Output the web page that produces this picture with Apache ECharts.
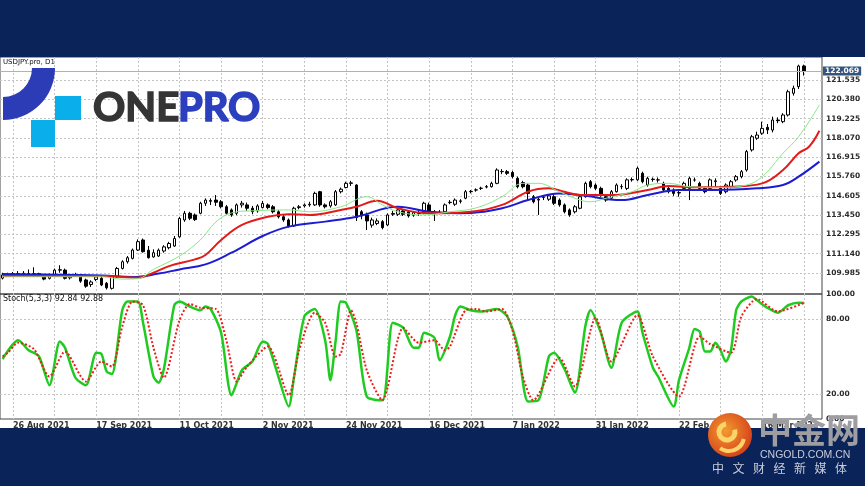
<!DOCTYPE html>
<html>
<head>
<meta charset="utf-8">
<title>USDJPY D1</title>
<script src="https://cdn.jsdelivr.net/npm/echarts@6/dist/echarts.min.js"></script>
<style>
html, body { margin: 0; padding: 0; }
#main { width: 865px; height: 486px; }
</style>
</head>
<body>
<div id="main"></div>
<script>
// ---- data ----
// trading days shown: weekdays from 24 Aug 2021, last three are the empty space on the right
var firstDay = Date.UTC(2021, 7, 24);
var dayCount = 158;
var dateLabels = ['26 Aug 2021', '17 Sep 2021', '11 Oct 2021', '2 Nov 2021', '24 Nov 2021',
    '16 Dec 2021', '7 Jan 2022', '31 Jan 2022', '22 Feb 2022', '16 Mar 2022'];
var priceTicks = [109.985, 111.140, 112.295, 113.450, 114.605, 115.760, 116.915, 118.070, 119.225, 120.380, 121.535];
var stochTicks = [0, 20, 80, 100];
var stochLevels = [20, 80];
var lastPrice = 122.069;

// [open, close, low, high]
var ohlc = [
    [109.68,109.87,109.60,110.00],[109.87,109.90,109.75,110.00],[109.90,109.95,109.80,110.05],[109.95,109.90,109.80,110.10],
    [109.90,109.97,109.80,110.10],[109.95,109.93,109.80,110.20],[109.93,109.95,109.75,110.33],[109.95,109.90,109.80,110.00],
    [109.85,109.62,109.55,109.90],[109.67,109.85,109.60,109.95],[109.87,110.16,109.80,110.25],[110.16,110.18,110.00,110.45],
    [110.16,109.67,109.60,110.25],[109.70,109.80,109.60,109.90],[109.85,109.88,109.75,110.00],[109.76,109.50,109.40,109.90],
    [109.57,109.20,109.10,109.65],[109.30,109.45,109.15,109.55],[109.60,109.75,109.50,109.85],[109.67,109.27,109.20,109.75],
    [109.37,109.10,109.00,109.45],[109.07,109.76,109.00,109.85],[109.76,110.26,109.70,110.35],[110.26,110.66,110.20,110.75],
    [110.66,110.90,110.55,111.00],[110.86,111.36,110.80,111.45],[111.36,111.86,111.30,112.00],[111.96,111.26,111.20,112.05],
    [111.35,110.90,110.85,111.60],[110.95,111.20,110.90,111.40],[111.00,111.35,110.95,111.45],[111.30,111.55,111.20,111.65],
    [111.50,111.75,111.40,111.85],[111.60,112.05,111.55,112.20],[112.15,113.25,112.10,113.35],[113.16,113.56,113.05,113.70],
    [113.56,113.26,113.15,113.65],[113.46,113.18,113.10,113.55],[113.56,114.16,113.50,114.25],[114.16,114.35,114.00,114.45],
    [114.32,114.28,114.05,114.45],[114.35,114.22,114.00,114.65],[114.25,113.95,113.85,114.35],[113.95,113.56,113.45,114.05],
    [113.76,113.46,113.35,113.85],[113.56,114.06,113.45,114.15],[114.06,114.16,113.90,114.30],[114.06,113.86,113.70,114.20],
    [113.86,113.65,113.50,114.00],[113.70,114.00,113.60,114.10],[113.90,114.15,113.85,114.30],[114.06,113.90,113.80,114.15],
    [113.95,113.65,113.55,114.05],[113.65,113.35,113.25,113.75],[113.35,113.16,113.05,113.45],[113.16,112.80,112.70,113.25],
    [112.80,113.86,112.75,113.95],[113.90,113.95,113.80,114.05],[114.00,114.06,113.90,114.15],[114.06,114.10,113.95,114.25],
    [114.06,114.75,114.00,114.85],[114.85,114.06,113.95,114.90],[114.06,113.95,113.85,114.15],[114.00,114.25,113.90,114.35],
    [114.06,114.85,114.00,114.95],[114.85,115.00,114.75,115.10],[115.10,115.35,115.05,115.45],[115.35,115.38,115.20,115.50],
    [115.25,113.30,113.10,115.30],[113.65,113.40,113.20,113.75],[113.46,113.10,112.56,113.60],[112.85,113.16,112.70,113.30],
    [112.95,113.10,112.85,113.25],[113.06,112.70,112.60,113.15],[112.86,113.46,112.80,113.55],[113.50,113.55,113.40,113.70],
    [113.50,113.76,113.40,113.85],[113.70,113.50,113.40,113.80],[113.65,113.40,113.30,113.75],[113.45,113.60,113.35,113.70],
    [113.55,113.57,113.40,113.70],[113.60,114.16,113.50,114.25],[114.06,113.65,113.55,114.20],[113.60,113.62,113.10,113.75],
    [113.60,113.62,113.50,113.75],[113.65,114.06,113.60,114.15],[114.20,114.22,114.10,114.35],[114.10,114.35,114.00,114.45],
    [114.30,114.28,114.15,114.40],[114.46,114.85,114.40,114.95],[114.85,114.87,114.75,114.95],[114.95,114.96,114.85,115.05],
    [115.05,115.06,114.95,115.15],[115.15,115.13,115.05,115.25],[115.15,115.35,115.10,115.45],[115.35,116.15,115.30,116.25],
    [116.05,116.06,115.90,116.20],[116.05,115.95,115.85,116.15],[116.00,115.75,115.65,116.10],[115.65,115.15,115.05,115.75],
    [115.40,115.15,115.05,115.50],[115.25,114.75,114.35,115.35],[114.55,114.25,114.15,114.65],[114.35,114.40,113.46,114.55],
    [114.50,114.52,114.35,114.65],[114.40,114.60,114.30,114.70],[114.55,114.16,114.05,114.65],[114.35,114.06,113.95,114.45],
    [114.06,113.65,113.55,114.15],[113.76,113.46,113.35,113.85],[113.65,113.95,113.55,114.05],[113.86,114.55,113.80,114.65],
    [114.55,115.35,114.50,115.45],[115.45,115.15,115.05,115.55],[115.25,115.05,114.95,115.35],[115.05,114.65,114.55,115.15],
    [114.55,114.35,114.25,114.65],[114.46,114.85,114.40,114.95],[114.85,115.25,114.80,115.35],[115.15,115.16,115.00,115.30],
    [115.05,115.56,114.95,115.65],[115.56,115.58,115.45,115.70],[115.56,116.25,115.50,116.35],[115.95,115.45,115.35,116.05],
    [115.25,115.65,115.15,115.75],[115.60,115.58,115.45,115.70],[115.55,115.56,115.40,115.70],[115.35,114.95,114.85,115.45],
    [115.05,114.85,114.75,115.15],[114.95,114.75,114.60,115.05],[114.80,114.78,114.55,114.90],[115.05,115.35,114.95,115.45],
    [115.05,115.65,114.35,115.75],[115.55,115.55,115.45,115.70],[115.35,115.05,114.95,115.45],[115.05,114.85,114.75,115.15],
    [115.05,115.56,114.95,115.65],[115.45,115.50,115.15,115.65],[115.05,114.75,114.65,115.15],[114.85,115.25,114.75,115.35],
    [115.15,115.45,115.05,115.55],[115.55,115.75,115.45,115.85],[115.75,116.05,115.65,116.15],[116.15,117.25,116.05,117.35],
    [117.35,118.14,117.25,118.25],[118.05,118.24,117.95,118.44],[118.35,118.64,118.25,119.04],[118.70,118.55,118.30,118.90],
    [118.54,119.14,118.40,119.34],[119.14,119.10,118.95,119.30],[119.04,119.44,118.95,119.55],[119.44,120.83,119.35,120.95],
    [120.74,121.04,120.60,121.20],[121.14,122.37,121.00,122.45],[122.37,122.07,121.80,122.45]
];

// shifted moving averages, [bar index, price]
var maGreen = [[0,109.76],[19,109.76],[23,109.62],[26,109.65],[29,110.2],[34,111.0],[38,111.96],[41,113.04],[44,113.58],
    [48,113.71],[55,113.76],[59,113.65],[65,113.95],[70,114.55],[73,114.06],[76,113.65],[81,113.46],[86,113.65],
    [91,113.88],[96,114.55],[100,115.35],[103,115.35],[107,114.85],[111,114.35],[113,114.25],[116,114.46],[121,114.85],
    [124,115.25],[128,115.35],[132,115.15],[138,115.11],[143,115.25],[146,115.75],[150,117.15],[153,118.14],[157,120.04]];
var maRed = [[0,109.8],[20,109.8],[26,109.7],[29,110.0],[32,110.4],[37,110.8],[39,111.06],[42,111.96],[46,112.86],
    [51,113.35],[55,113.5],[59,113.46],[65,113.76],[68,113.95],[72,114.31],[76,113.86],[82,113.56],[90,113.65],
    [96,114.06],[101,114.85],[105,115.05],[108,114.85],[111,114.65],[117,114.65],[124,114.95],[128,115.19],
    [133,115.11],[140,115.15],[146,115.35],[150,116.15],[153,117.15],[155,117.54],[157,118.5]];
var maBlue = [[0,109.93],[19,109.84],[25,109.75],[30,109.95],[34,110.2],[39,110.5],[44,111.2],[50,112.2],[55,112.76],
    [62,113.06],[68,113.35],[76,113.95],[82,113.65],[88,113.56],[96,113.86],[101,114.35],[107,114.75],[111,114.65],
    [119,114.35],[124,114.65],[130,114.95],[137,114.95],[145,115.05],[150,115.25],[153,115.75],[157,116.65]];

// stochastic (5,3,3): %K and %D, [bar index, value]
var stochK = [[0,48],[3,63],[5,55],[7,50],[9,27],[11,62],[12,57],[14,33],[16,27],[18,53],[19,52],[20,38],[21,36],
    [23,87],[24,94],[26,94],[27,77],[29,34],[30,29],[31,40],[33,91],[34,94],[36,90],[38,87],[39,90],[40,88],[42,69],
    [44,19],[46,39],[48,46],[50,62],[51,60],[53,34],[55,10],[56,33],[58,82],[60,88],[62,63],[63,31],[64,62],[65,94],
    [66,93],[68,71],[70,18],[73,15],[75,77],[77,73],[79,57],[80,57],[81,69],[83,65],[84,47],[86,66],[87,83],[88,90],
    [90,87],[92,86],[95,88],[97,82],[99,58],[101,14],[103,15],[105,50],[106,53],[108,40],[110,21],[112,74],[113,87],
    [115,69],[117,41],[119,77],[122,86],[123,69],[125,41],[126,34],[129,10],[130,31],[132,57],[133,72],[134,70],
    [135,54],[136,54],[137,61],[138,55],[139,46],[140,55],[141,87],[142,94],[144,98],[145,95],[147,89],[149,85],
    [151,91],[153,93],[154,92.84]];
var stochD = [[0,50],[1,53],[3,61],[6,56],[9,34],[12,54],[16,30],[19,46],[21,42],[23,74],[25,94],[27,91],[29,57],
    [31,33],[34,79],[36,92],[38,89],[41,88],[43,63],[45,30],[47,42],[51,58],[55,19],[57,55],[60,85],[62,77],[64,50],
    [65,52],[67,87],[68,77],[70,39],[73,15],[77,73],[80,61],[83,63],[85,55],[86,58],[89,87],[91,88],[93,86],[96,88],
    [98,71],[100,34],[102,15],[107,49],[110,26],[114,81],[117,46],[122,83],[125,50],[130,18],[134,66],[136,60],
    [140,53],[142,82],[145,96],[149,86],[154,92.88]];

// ---- categories ----
var months = ['Jan','Feb','Mar','Apr','May','Jun','Jul','Aug','Sep','Oct','Nov','Dec'];
var days = [];
var t = firstDay;
while (days.length < dayCount) {
    var d = new Date(t);
    var wd = d.getUTCDay();
    if (wd !== 0 && wd !== 6) {
        days.push(d.getUTCDate() + ' ' + months[d.getUTCMonth()] + ' ' + d.getUTCFullYear());
    }
    t += 86400000;
}
var firstLabel = days.indexOf(dateLabels[0]);

var navy = '#0a2359';
var gridLine = { color: '#c4c4c4', type: [2, 2], width: 1 };
var axisFont = { fontFamily: 'DejaVu Sans', fontSize: 7.5, fontWeight: 'bold', color: '#2a2a2a' };

var myChart = echarts.init(document.getElementById('main'));

var option = {
    animation: false,
    backgroundColor: '#ffffff',
    grid: [
        { left: 0, right: 43, top: 57, height: 237, show: true, borderColor: '#444', borderWidth: 1 },
        { left: 0, right: 43, top: 294, height: 125, show: true, borderColor: '#444', borderWidth: 1 }
    ],
    xAxis: [
        {
            type: 'category', gridIndex: 0, data: days, boundaryGap: true,
            axisLine: { show: false }, axisTick: { show: false }, axisLabel: { show: false },
            splitLine: {
                show: true, alignWithLabel: true, lineStyle: gridLine,
                interval: function (i) { return (i - firstLabel) % 8 === 0; }
            }
        },
        {
            type: 'category', gridIndex: 1, data: days, boundaryGap: true,
            axisLine: { show: false }, axisTick: { show: false },
            axisLabel: {
                show: true, align: 'left', margin: 3,
                fontFamily: 'DejaVu Sans', fontSize: 8, fontWeight: 'bold', color: '#333',
                interval: function (i, v) { return dateLabels.indexOf(v) >= 0; }
            },
            splitLine: {
                show: true, alignWithLabel: true, lineStyle: gridLine,
                interval: function (i) { return (i - firstLabel) % 8 === 0; }
            }
        }
    ],
    yAxis: [
        {
            type: 'value', gridIndex: 0, position: 'right', min: 108.73, max: 122.91,
            axisLine: { show: false },
            axisTick: { show: false, customValues: priceTicks },
            axisLabel: Object.assign({ customValues: priceTicks, margin: 4,
                formatter: function (v) { return v.toFixed(3); } }, axisFont),
            splitLine: { show: true, lineStyle: gridLine }
        },
        {
            type: 'value', gridIndex: 1, position: 'right', min: 0, max: 100,
            axisLine: { show: false },
            axisTick: { show: false, customValues: stochLevels },
            axisLabel: Object.assign({ customValues: stochTicks, margin: 4,
                formatter: function (v) { return v.toFixed(2); } }, axisFont),
            splitLine: { show: true, lineStyle: gridLine }
        }
    ],
    series: [
        {
            type: 'candlestick', xAxisIndex: 0, yAxisIndex: 0, data: ohlc, barWidth: 3,
            itemStyle: { color: '#ffffff', color0: '#000000', borderColor: '#000000', borderColor0: '#000000', borderWidth: 1 },
            markLine: {
                silent: true, symbol: 'none', animation: false,
                data: [{ yAxis: lastPrice }],
                lineStyle: { color: '#9fb6cf', width: 1, type: 'solid' },
                label: {
                    show: true, position: 'end', distance: 1,
                    formatter: lastPrice.toFixed(3),
                    color: '#ffffff', backgroundColor: '#34557f', padding: [1, 2, 0, 2],
                    fontFamily: 'DejaVu Sans', fontSize: 7.5, fontWeight: 'bold'
                }
            }
        },
        { type: 'line', xAxisIndex: 0, yAxisIndex: 0, data: maBlue, smooth: 0.4, symbol: 'none',
          lineStyle: { color: '#1c1cd2', width: 2 } },
        { type: 'line', xAxisIndex: 0, yAxisIndex: 0, data: maRed, smooth: 0.4, symbol: 'none',
          lineStyle: { color: '#e41a1a', width: 2 } },
        { type: 'line', xAxisIndex: 0, yAxisIndex: 0, data: maGreen, smooth: 0.4, symbol: 'none',
          lineStyle: { color: '#86e886', width: 1 } },
        { type: 'line', xAxisIndex: 1, yAxisIndex: 1, data: stochK, smooth: 0.25, symbol: 'none',
          lineStyle: { color: '#1ecb1e', width: 2.5 } },
        { type: 'line', xAxisIndex: 1, yAxisIndex: 1, data: stochD, smooth: 0.25, symbol: 'none',
          lineStyle: { color: '#f01c1c', width: 2, type: 'dotted' } }
    ],
    graphic: [
        // frame bands
        { type: 'rect', z: 100, shape: { x: 0, y: 0, width: 865, height: 57 }, style: { fill: navy } },
        { type: 'rect', z: 100, shape: { x: 0, y: 428, width: 865, height: 58 }, style: { fill: navy } },
        // panel captions
        { type: 'text', z: 100, x: 3, y: 59, style: { text: 'USDJPY.pro, D1', font: '7px DejaVu Sans', fill: '#111', verticalAlign: 'top' } },
        { type: 'text', z: 100, x: 3, y: 295, style: { text: 'Stoch(5,3,3) 92.84 92.88', font: '8px DejaVu Sans', fill: '#111', verticalAlign: 'top' } },
        // ONEPRO logo
        { type: 'sector', z: 100, shape: { cx: 3, cy: 68, r0: 29, r: 52, startAngle: 0, endAngle: Math.PI / 2 }, style: { fill: '#2b3cb6' } },
        { type: 'rect', z: 100, shape: { x: 55, y: 96, width: 26, height: 24 }, style: { fill: '#09aeea' } },
        { type: 'rect', z: 100, shape: { x: 31, y: 120, width: 24, height: 27 }, style: { fill: '#09aeea' } },
        { type: 'text', z: 100, x: 93, y: 108, style: { text: 'ONE', font: 'bold 40px Lato', fill: '#353535',
          stroke: '#353535', lineWidth: 1.6, verticalAlign: 'middle' } },
        { type: 'text', z: 100, x: 178, y: 108, style: { text: 'PRO', font: 'bold 40px Lato', fill: '#2c3fbe',
          stroke: '#2c3fbe', lineWidth: 1.6, verticalAlign: 'middle' } },
        // CNGOLD watermark
        { type: 'circle', z: 100, shape: { cx: 730, cy: 435, r: 22 },
          style: { fill: { type: 'radial', x: 0.4, y: 0.4, r: 0.7,
            colorStops: [{ offset: 0, color: '#f39a2d' }, { offset: 1, color: '#d2391a' }] } } },
        { type: 'arc', z: 101, shape: { cx: 727, cy: 432, r: 8, startAngle: -0.3, endAngle: 4.6 },
          style: { stroke: '#fbd469', lineWidth: 5, fill: null } },
        { type: 'arc', z: 101, shape: { cx: 729, cy: 436, r: 15, startAngle: 0.2, endAngle: 2.2 },
          style: { stroke: '#fbd469', lineWidth: 4, fill: null } },
        { type: 'text', z: 100, x: 758, y: 430, style: { text: '中金网', font: 'bold 34px "Noto Sans CJK SC"', fill: '#9d9da2', verticalAlign: 'middle' } },
        { type: 'text', z: 100, x: 760, y: 455, style: { text: 'CNGOLD.COM.CN', font: '10.5px "Liberation Sans"', fill: '#c9cdd8', verticalAlign: 'middle' } }
    ]
};

// spaced tagline under the watermark
var tagline = ['中', '文', '财', '经', '新', '媒', '体'];
tagline.forEach(function (ch, k) {
    option.graphic.push({ type: 'text', z: 100, x: 718 + k * 20.5, y: 468,
        style: { text: ch, font: '12px "Noto Sans CJK SC"', fill: '#c9cdd8', align: 'center', verticalAlign: 'middle' } });
});

myChart.setOption(option);
</script>
</body>
</html>
